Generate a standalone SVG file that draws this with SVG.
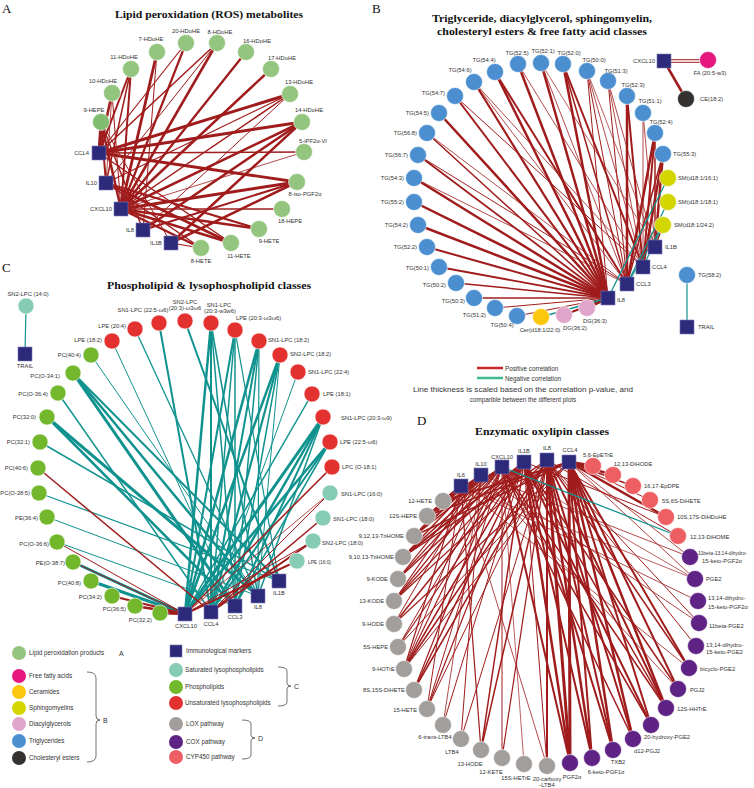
<svg xmlns="http://www.w3.org/2000/svg" width="754" height="788" viewBox="0 0 754 788">
<style>
.lb{font-family:"Liberation Sans",Arial,sans-serif;font-size:5.8px;fill:#333}
.e{text-anchor:end}.m{text-anchor:middle}
.sq{fill:#2d2a7c;stroke:#7b79b2;stroke-width:0.6}
.c{stroke:#ffffff;stroke-width:0.6}
.ros{fill:#93c57f}.ffa{fill:#e6187f}.cer{fill:#fcc80d}.sm{fill:#d3d600}.dg{fill:#e1a5cb}.tg{fill:#4b8fd0}.ce{fill:#343231}.sat{fill:#86cbb3}.pl{fill:#72b72c}.uns{fill:#e33130}.lox{fill:#a19e9c}.cox{fill:#5f2385}.cyp{fill:#ee5f63}
.p line{stroke:#a01c1c}.n line{stroke:#10928f}
.ttl{font-family:"Liberation Serif","DejaVu Serif",serif;font-weight:bold;font-size:11px;fill:#111;text-anchor:middle}
.let{font-family:"Liberation Serif","DejaVu Serif",serif;font-size:13px;fill:#111}
.lg{font-family:"Liberation Sans",Arial,sans-serif;font-size:6.3px;fill:#333}
.br{fill:none;stroke:#333;stroke-width:0.7}
</style>
<rect width="754" height="788" fill="#ffffff"/>

<!-- titles -->
<text class="let" x="2" y="13">A</text>
<text class="ttl" x="209" y="18" textLength="188" lengthAdjust="spacingAndGlyphs">Lipid peroxidation (ROS) metabolites</text>
<text class="let" x="372" y="13">B</text>
<text class="ttl" x="542" y="22" textLength="220" lengthAdjust="spacingAndGlyphs">Triglyceride, diacylglycerol, sphingomyelin,</text>
<text class="ttl" x="542" y="35" textLength="210" lengthAdjust="spacingAndGlyphs">cholesteryl esters &amp; free fatty acid classes</text>
<text class="let" x="2" y="272">C</text>
<text class="ttl" x="209" y="289" textLength="204" lengthAdjust="spacingAndGlyphs">Phospholipid &amp; lysophospholipid classes</text>
<text class="let" x="417" y="425">D</text>
<text class="ttl" x="542" y="435" textLength="134" lengthAdjust="spacingAndGlyphs">Enzymatic oxylipin classes</text>

<!-- connectors -->
<g id="connectors">
<g id="edges-A" class="p">
<line x1="99" y1="153" x2="101" y2="122" stroke-width="3"/>
<line x1="99" y1="153" x2="112" y2="93" stroke-width="2.5"/>
<line x1="99" y1="153" x2="131" y2="69" stroke-width="2"/>
<line x1="99" y1="153" x2="186" y2="43" stroke-width="1.2"/>
<line x1="99" y1="153" x2="217" y2="43" stroke-width="1.5"/>
<line x1="99" y1="153" x2="290" y2="94" stroke-width="3"/>
<line x1="99" y1="153" x2="302" y2="122" stroke-width="3"/>
<line x1="99" y1="153" x2="304" y2="152" stroke-width="1.6"/>
<line x1="99" y1="153" x2="297" y2="182" stroke-width="2.8"/>
<line x1="99" y1="153" x2="231" y2="243" stroke-width="1.5"/>
<line x1="106" y1="183" x2="101" y2="122" stroke-width="2"/>
<line x1="106" y1="183" x2="112" y2="93" stroke-width="0.8"/>
<line x1="106" y1="183" x2="131" y2="69" stroke-width="1.5"/>
<line x1="106" y1="183" x2="217" y2="43" stroke-width="1"/>
<line x1="106" y1="183" x2="290" y2="94" stroke-width="1.2"/>
<line x1="106" y1="183" x2="259" y2="229" stroke-width="2"/>
<line x1="106" y1="183" x2="231" y2="243" stroke-width="2.5"/>
<line x1="106" y1="183" x2="201" y2="248" stroke-width="1.5"/>
<line x1="121" y1="209" x2="101" y2="122" stroke-width="2.5"/>
<line x1="121" y1="209" x2="112" y2="93" stroke-width="1"/>
<line x1="121" y1="209" x2="131" y2="69" stroke-width="2"/>
<line x1="121" y1="209" x2="157" y2="52" stroke-width="2.8"/>
<line x1="121" y1="209" x2="186" y2="43" stroke-width="2.2"/>
<line x1="121" y1="209" x2="217" y2="43" stroke-width="2.5"/>
<line x1="121" y1="209" x2="246" y2="52" stroke-width="2.3"/>
<line x1="121" y1="209" x2="271" y2="69" stroke-width="2.5"/>
<line x1="121" y1="209" x2="290" y2="94" stroke-width="1.5"/>
<line x1="121" y1="209" x2="302" y2="122" stroke-width="2.5"/>
<line x1="121" y1="209" x2="304" y2="152" stroke-width="0.8"/>
<line x1="121" y1="209" x2="297" y2="182" stroke-width="3"/>
<line x1="121" y1="209" x2="282" y2="209" stroke-width="1.5"/>
<line x1="121" y1="209" x2="259" y2="229" stroke-width="2.5"/>
<line x1="121" y1="209" x2="231" y2="243" stroke-width="2.5"/>
<line x1="121" y1="209" x2="201" y2="248" stroke-width="2.5"/>
<line x1="143" y1="230" x2="157" y2="52" stroke-width="1"/>
<line x1="143" y1="230" x2="290" y2="94" stroke-width="1"/>
<line x1="143" y1="230" x2="302" y2="122" stroke-width="2.5"/>
<line x1="143" y1="230" x2="297" y2="182" stroke-width="2"/>
<line x1="143" y1="230" x2="101" y2="122" stroke-width="1.5"/>
<line x1="171" y1="243" x2="302" y2="122" stroke-width="2.5"/>
<line x1="171" y1="243" x2="297" y2="182" stroke-width="2.5"/>
<line x1="171" y1="243" x2="201" y2="248" stroke-width="1.2"/>
<line x1="171" y1="243" x2="101" y2="122" stroke-width="1"/>
</g>

<g id="edges-B-pos" class="p">
<line x1="608" y1="298" x2="414" y2="178" stroke-width="2.5"/>
<line x1="608" y1="298" x2="414" y2="202" stroke-width="2.5"/>
<line x1="608" y1="298" x2="418" y2="225" stroke-width="2.5"/>
<line x1="608" y1="298" x2="427" y2="247" stroke-width="2"/>
<line x1="608" y1="298" x2="439" y2="267" stroke-width="1.8"/>
<line x1="608" y1="298" x2="456" y2="283" stroke-width="1.5"/>
<line x1="608" y1="298" x2="474" y2="298" stroke-width="1.3"/>
<line x1="608" y1="298" x2="495" y2="308" stroke-width="1"/>
<line x1="608" y1="298" x2="517" y2="316" stroke-width="1"/>
<line x1="608" y1="298" x2="418" y2="155" stroke-width="1.8"/>
<line x1="608" y1="298" x2="427" y2="133" stroke-width="1.5"/>
<line x1="608" y1="298" x2="439" y2="113" stroke-width="2.5"/>
<line x1="608" y1="298" x2="455" y2="96" stroke-width="2"/>
<line x1="608" y1="298" x2="474" y2="82" stroke-width="2.2"/>
<line x1="608" y1="298" x2="495" y2="72" stroke-width="2.5"/>
<line x1="608" y1="298" x2="518" y2="64" stroke-width="2.5"/>
<line x1="608" y1="298" x2="541" y2="63" stroke-width="2.5"/>
<line x1="608" y1="298" x2="563" y2="64" stroke-width="2.5"/>
<line x1="608" y1="298" x2="587" y2="71" stroke-width="1"/>
<line x1="608" y1="298" x2="587" y2="308" stroke-width="3"/>
<line x1="608" y1="298" x2="564" y2="315" stroke-width="2"/>
<line x1="627" y1="284" x2="427" y2="133" stroke-width="0.8"/>
<line x1="627" y1="284" x2="414" y2="178" stroke-width="0.8"/>
<line x1="627" y1="284" x2="495" y2="72" stroke-width="2"/>
<line x1="627" y1="284" x2="541" y2="63" stroke-width="0.8"/>
<line x1="627" y1="284" x2="563" y2="64" stroke-width="1.5"/>
<line x1="627" y1="284" x2="587" y2="71" stroke-width="1"/>
<line x1="627" y1="284" x2="608" y2="81" stroke-width="1"/>
<line x1="627" y1="284" x2="627" y2="96" stroke-width="2.5"/>
<line x1="627" y1="284" x2="655" y2="133" stroke-width="2.5"/>
<line x1="627" y1="284" x2="663" y2="154" stroke-width="1.5"/>
<line x1="627" y1="284" x2="418" y2="155" stroke-width="1"/>
<line x1="627" y1="284" x2="474" y2="82" stroke-width="0.8"/>
<line x1="643" y1="267" x2="474" y2="82" stroke-width="0.8"/>
<line x1="643" y1="267" x2="518" y2="64" stroke-width="0.8"/>
<line x1="643" y1="267" x2="563" y2="64" stroke-width="2"/>
<line x1="643" y1="267" x2="587" y2="71" stroke-width="0.8"/>
<line x1="643" y1="267" x2="608" y2="81" stroke-width="0.8"/>
<line x1="643" y1="267" x2="627" y2="96" stroke-width="2"/>
<line x1="643" y1="267" x2="655" y2="133" stroke-width="2"/>
<line x1="643" y1="267" x2="663" y2="154" stroke-width="2.5"/>
<line x1="643" y1="267" x2="643" y2="113" stroke-width="0.8"/>
<line x1="643" y1="267" x2="455" y2="96" stroke-width="1"/>
<line x1="655" y1="247" x2="541" y2="63" stroke-width="0.7"/>
<line x1="655" y1="247" x2="587" y2="71" stroke-width="0.7"/>
<line x1="655" y1="247" x2="608" y2="81" stroke-width="0.8"/>
<line x1="655" y1="247" x2="655" y2="133" stroke-width="1.5"/>
<line x1="655" y1="247" x2="663" y2="154" stroke-width="2.5"/>
<line x1="655" y1="247" x2="643" y2="113" stroke-width="0.8"/>
<line x1="655" y1="247" x2="663" y2="225" stroke-width="1.5"/>
<line x1="664" y1="59.7" x2="708" y2="59.7" stroke-width="1"/>
<line x1="664" y1="62.3" x2="708" y2="62.3" stroke-width="1"/>
<line x1="664" y1="61" x2="686" y2="99" stroke-width="2.5"/>
</g>
<g id="edges-B-neg" class="n">
<line x1="668" y1="178" x2="608" y2="298" stroke-width="1.3"/>
<line x1="668" y1="202" x2="627" y2="284" stroke-width="1.3"/>
<line x1="663" y1="225" x2="627" y2="284" stroke-width="1.2"/>
<line x1="663" y1="225" x2="643" y2="267" stroke-width="1.2"/>
<line x1="541" y1="317" x2="608" y2="298" stroke-width="1.3"/>
<line x1="687" y1="275" x2="687" y2="327" stroke-width="1.2"/>
</g>

<g id="edges-C-neg" class="n">
<line x1="26" y1="306" x2="25" y2="354" stroke-width="1.2"/>
<line x1="112" y1="341" x2="235" y2="606" stroke-width="1"/>
<line x1="135" y1="329" x2="258" y2="596" stroke-width="1.3"/>
<line x1="159" y1="323" x2="211" y2="612" stroke-width="2"/>
<line x1="185" y1="321" x2="279" y2="581" stroke-width="2"/>
<line x1="211" y1="323" x2="185" y2="614" stroke-width="2.5"/>
<line x1="211" y1="323" x2="211" y2="612" stroke-width="2"/>
<line x1="211" y1="323" x2="235" y2="606" stroke-width="1.5"/>
<line x1="211" y1="323" x2="258" y2="596" stroke-width="1.5"/>
<line x1="235" y1="330" x2="185" y2="614" stroke-width="2"/>
<line x1="235" y1="330" x2="211" y2="612" stroke-width="1.5"/>
<line x1="235" y1="330" x2="235" y2="606" stroke-width="1.5"/>
<line x1="235" y1="330" x2="279" y2="581" stroke-width="1.2"/>
<line x1="259" y1="341" x2="185" y2="614" stroke-width="2.5"/>
<line x1="259" y1="341" x2="211" y2="612" stroke-width="2"/>
<line x1="259" y1="341" x2="235" y2="606" stroke-width="1.5"/>
<line x1="259" y1="341" x2="258" y2="596" stroke-width="1.2"/>
<line x1="280" y1="355" x2="185" y2="614" stroke-width="2.5"/>
<line x1="280" y1="355" x2="211" y2="612" stroke-width="2.2"/>
<line x1="280" y1="355" x2="235" y2="606" stroke-width="1.5"/>
<line x1="280" y1="355" x2="258" y2="596" stroke-width="1"/>
<line x1="298" y1="372" x2="211" y2="612" stroke-width="1"/>
<line x1="312" y1="394" x2="185" y2="614" stroke-width="1.5"/>
<line x1="323" y1="417" x2="185" y2="614" stroke-width="3"/>
<line x1="323" y1="417" x2="211" y2="612" stroke-width="2.5"/>
<line x1="323" y1="417" x2="235" y2="606" stroke-width="2"/>
<line x1="323" y1="417" x2="258" y2="596" stroke-width="1.5"/>
<line x1="330" y1="442" x2="185" y2="614" stroke-width="2.5"/>
<line x1="330" y1="442" x2="211" y2="612" stroke-width="2"/>
<line x1="330" y1="442" x2="235" y2="606" stroke-width="1.5"/>
<line x1="91" y1="355" x2="258" y2="596" stroke-width="1"/>
<line x1="73" y1="373" x2="235" y2="606" stroke-width="3"/>
<line x1="73" y1="373" x2="258" y2="596" stroke-width="2.5"/>
<line x1="73" y1="373" x2="279" y2="581" stroke-width="2"/>
<line x1="58" y1="393" x2="211" y2="612" stroke-width="1.5"/>
<line x1="47" y1="417" x2="258" y2="596" stroke-width="3"/>
<line x1="47" y1="417" x2="235" y2="606" stroke-width="2.5"/>
<line x1="40" y1="442" x2="279" y2="581" stroke-width="1.5"/>
<line x1="39" y1="493" x2="279" y2="581" stroke-width="1.2"/>
<line x1="47" y1="517" x2="258" y2="596" stroke-width="1"/>
<line x1="57" y1="542" x2="235" y2="606" stroke-width="1"/>
<line x1="73" y1="562" x2="185" y2="614" stroke-width="3"/>
<line x1="91" y1="581" x2="185" y2="614" stroke-width="3"/>
</g>
<g id="edges-C-pos" class="p">
<line x1="38" y1="468" x2="211" y2="612" stroke-width="1.5"/>
<line x1="57" y1="542" x2="185" y2="614" stroke-width="1"/>
<line x1="112" y1="596" x2="185" y2="614" stroke-width="2"/>
<line x1="135" y1="606" x2="185" y2="614" stroke-width="2.5"/>
<line x1="160" y1="613" x2="185" y2="614" stroke-width="2.5"/>
<line x1="73" y1="562" x2="185" y2="614" stroke-width="1"/>
<line x1="332" y1="467" x2="185" y2="614" stroke-width="1.5"/>
<line x1="330" y1="493" x2="211" y2="612" stroke-width="1"/>
<line x1="323" y1="518" x2="211" y2="612" stroke-width="1.5"/>
<line x1="313" y1="541" x2="211" y2="612" stroke-width="2"/>
<line x1="313" y1="541" x2="185" y2="614" stroke-width="1"/>
<line x1="297" y1="561" x2="185" y2="614" stroke-width="2"/>
<line x1="330" y1="493" x2="185" y2="614" stroke-width="0.8"/>
</g>

<g id="edges-D-pos" class="p">
<line x1="569" y1="462" x2="593" y2="466" stroke-width="3"/>
<line x1="569" y1="462" x2="613" y2="475" stroke-width="2.5"/>
<line x1="569" y1="462" x2="633" y2="486" stroke-width="1.5"/>
<line x1="569" y1="462" x2="650" y2="500" stroke-width="1"/>
<line x1="569" y1="462" x2="666" y2="517" stroke-width="2.5"/>
<line x1="569" y1="462" x2="690" y2="557" stroke-width="0.8"/>
<line x1="569" y1="462" x2="695" y2="579" stroke-width="0.8"/>
<line x1="569" y1="462" x2="689" y2="668" stroke-width="2"/>
<line x1="569" y1="462" x2="678" y2="689" stroke-width="2"/>
<line x1="569" y1="462" x2="666" y2="708" stroke-width="2.5"/>
<line x1="569" y1="462" x2="651" y2="725" stroke-width="2"/>
<line x1="569" y1="462" x2="633" y2="739" stroke-width="2.5"/>
<line x1="569" y1="462" x2="613" y2="750" stroke-width="2.5"/>
<line x1="569" y1="462" x2="592" y2="758" stroke-width="2"/>
<line x1="569" y1="462" x2="570" y2="763" stroke-width="3"/>
<line x1="569" y1="462" x2="443" y2="501" stroke-width="2"/>
<line x1="569" y1="462" x2="427" y2="516" stroke-width="1.5"/>
<line x1="569" y1="462" x2="414" y2="536" stroke-width="1.5"/>
<line x1="569" y1="462" x2="404" y2="669" stroke-width="1"/>
<line x1="569" y1="462" x2="394" y2="624" stroke-width="1.2"/>
<line x1="569" y1="462" x2="398" y2="647" stroke-width="1"/>
<line x1="547" y1="460" x2="570" y2="763" stroke-width="3"/>
<line x1="547" y1="460" x2="613" y2="750" stroke-width="2"/>
<line x1="547" y1="460" x2="592" y2="758" stroke-width="2.5"/>
<line x1="547" y1="460" x2="633" y2="739" stroke-width="2"/>
<line x1="547" y1="460" x2="666" y2="708" stroke-width="2"/>
<line x1="547" y1="460" x2="689" y2="668" stroke-width="1.5"/>
<line x1="547" y1="460" x2="696" y2="646" stroke-width="1"/>
<line x1="547" y1="460" x2="699" y2="623" stroke-width="1"/>
<line x1="547" y1="460" x2="547" y2="766" stroke-width="2"/>
<line x1="547" y1="460" x2="502" y2="758" stroke-width="1.2"/>
<line x1="547" y1="460" x2="481" y2="750" stroke-width="1.5"/>
<line x1="547" y1="460" x2="461" y2="739" stroke-width="1"/>
<line x1="547" y1="460" x2="427" y2="709" stroke-width="1"/>
<line x1="547" y1="460" x2="404" y2="669" stroke-width="1.5"/>
<line x1="547" y1="460" x2="414" y2="690" stroke-width="1.5"/>
<line x1="547" y1="460" x2="394" y2="601" stroke-width="1.2"/>
<line x1="547" y1="460" x2="403" y2="557" stroke-width="1.5"/>
<line x1="547" y1="460" x2="678" y2="536" stroke-width="1"/>
<line x1="524" y1="462" x2="570" y2="763" stroke-width="2.5"/>
<line x1="524" y1="462" x2="547" y2="766" stroke-width="1"/>
<line x1="524" y1="462" x2="613" y2="750" stroke-width="2"/>
<line x1="524" y1="462" x2="592" y2="758" stroke-width="2"/>
<line x1="524" y1="462" x2="666" y2="708" stroke-width="1.5"/>
<line x1="524" y1="462" x2="678" y2="689" stroke-width="1.5"/>
<line x1="524" y1="462" x2="651" y2="725" stroke-width="2"/>
<line x1="524" y1="462" x2="481" y2="750" stroke-width="1.5"/>
<line x1="524" y1="462" x2="443" y2="725" stroke-width="1"/>
<line x1="524" y1="462" x2="427" y2="709" stroke-width="1.2"/>
<line x1="524" y1="462" x2="414" y2="690" stroke-width="1.5"/>
<line x1="524" y1="462" x2="404" y2="669" stroke-width="1.5"/>
<line x1="524" y1="462" x2="398" y2="647" stroke-width="1.2"/>
<line x1="524" y1="462" x2="394" y2="624" stroke-width="1.5"/>
<line x1="524" y1="462" x2="394" y2="601" stroke-width="1.2"/>
<line x1="524" y1="462" x2="398" y2="579" stroke-width="1.5"/>
<line x1="524" y1="462" x2="403" y2="557" stroke-width="2"/>
<line x1="524" y1="462" x2="666" y2="517" stroke-width="1"/>
<line x1="502" y1="467" x2="570" y2="763" stroke-width="2"/>
<line x1="502" y1="467" x2="524" y2="764" stroke-width="0.7"/>
<line x1="502" y1="467" x2="502" y2="758" stroke-width="1"/>
<line x1="502" y1="467" x2="394" y2="601" stroke-width="1.2"/>
<line x1="502" y1="467" x2="398" y2="579" stroke-width="1.2"/>
<line x1="502" y1="467" x2="403" y2="557" stroke-width="1.5"/>
<line x1="502" y1="467" x2="414" y2="536" stroke-width="1.5"/>
<line x1="502" y1="467" x2="427" y2="516" stroke-width="2"/>
<line x1="502" y1="467" x2="398" y2="647" stroke-width="1"/>
<line x1="502" y1="467" x2="404" y2="669" stroke-width="1.2"/>
<line x1="502" y1="467" x2="414" y2="690" stroke-width="1.2"/>
<line x1="502" y1="467" x2="427" y2="709" stroke-width="1"/>
<line x1="502" y1="467" x2="666" y2="708" stroke-width="1.5"/>
<line x1="502" y1="467" x2="651" y2="725" stroke-width="1.5"/>
<line x1="502" y1="467" x2="633" y2="739" stroke-width="1.5"/>
<line x1="502" y1="467" x2="695" y2="579" stroke-width="0.7"/>
<line x1="481" y1="475" x2="443" y2="501" stroke-width="2"/>
<line x1="481" y1="475" x2="427" y2="516" stroke-width="1.5"/>
<line x1="481" y1="475" x2="414" y2="536" stroke-width="2"/>
<line x1="481" y1="475" x2="403" y2="557" stroke-width="1.5"/>
<line x1="481" y1="475" x2="398" y2="579" stroke-width="1.2"/>
<line x1="481" y1="475" x2="394" y2="601" stroke-width="1.2"/>
<line x1="481" y1="475" x2="394" y2="624" stroke-width="1"/>
<line x1="481" y1="475" x2="404" y2="669" stroke-width="1"/>
<line x1="481" y1="475" x2="443" y2="725" stroke-width="0.8"/>
<line x1="481" y1="475" x2="461" y2="739" stroke-width="1"/>
<line x1="481" y1="475" x2="678" y2="689" stroke-width="0.8"/>
<line x1="481" y1="475" x2="699" y2="623" stroke-width="0.8"/>
<line x1="481" y1="475" x2="690" y2="557" stroke-width="0.8"/>
<line x1="461" y1="486" x2="443" y2="501" stroke-width="2.5"/>
<line x1="461" y1="486" x2="427" y2="516" stroke-width="2"/>
<line x1="461" y1="486" x2="414" y2="536" stroke-width="1.5"/>
<line x1="461" y1="486" x2="481" y2="750" stroke-width="1.2"/>
<line x1="461" y1="486" x2="404" y2="669" stroke-width="1.2"/>
<line x1="461" y1="486" x2="427" y2="709" stroke-width="1"/>
<line x1="461" y1="486" x2="689" y2="668" stroke-width="0.8"/>
<line x1="461" y1="486" x2="695" y2="579" stroke-width="0.7"/>
<line x1="461" y1="486" x2="698" y2="601" stroke-width="0.8"/>
<line x1="461" y1="486" x2="547" y2="766" stroke-width="0.8"/>
</g>
<g id="edges-D-neg" class="n">
<line x1="502" y1="467" x2="678" y2="536" stroke-width="1.3"/>
</g>
</g>

<!-- Panel A nodes -->
<g id="a-9hepe"><circle class="c" fill="#80bd6f" cx="101" cy="122" r="8.5"/><text class="lb m" x="94" y="112">9-HEPE</text></g>
<g id="a-10hdohe"><circle class="c ros" cx="112" cy="93" r="8.5"/><text class="lb m" x="103" y="83">10-HDoHE</text></g>
<g id="a-11hdohe"><circle class="c ros" cx="131" cy="69" r="8.5"/><text class="lb m" x="124" y="59">11-HDoHE</text></g>
<g id="a-7hdohe"><circle class="c ros" cx="157" cy="52" r="8.5"/><text class="lb m" x="151" y="41">7-HDoHE</text></g>
<g id="a-20hdohe"><circle class="c ros" cx="186" cy="43" r="8.5"/><text class="lb m" x="186" y="33">20-HDoHE</text></g>
<g id="a-8hdohe"><circle class="c ros" cx="217" cy="43" r="8.5"/><text class="lb m" x="220" y="34">8-HDoHE</text></g>
<g id="a-16hdohe"><circle class="c ros" cx="246" cy="52" r="8.5"/><text class="lb m" x="257" y="43">16-HDoHE</text></g>
<g id="a-17hdohe"><circle class="c ros" cx="271" cy="69" r="8.5"/><text class="lb m" x="282" y="60">17-HDoHE</text></g>
<g id="a-13hdohe"><circle class="c ros" cx="290" cy="94" r="8.5"/><text class="lb m" x="299" y="84">13-HDoHE</text></g>
<g id="a-14hdohe"><circle class="c ros" cx="302" cy="122" r="8.5"/><text class="lb m" x="309" y="112">14-HDoHE</text></g>
<g id="a-5ipf"><circle class="c ros" cx="304" cy="152" r="8.5"/><text class="lb m" x="313" y="143">5-iPF2α-VI</text></g>
<g id="a-8iso"><circle class="c ros" cx="297" cy="182" r="8.5"/><text class="lb m" x="305" y="196">8-iso-PGF2α</text></g>
<g id="a-18hepe"><circle class="c ros" cx="282" cy="209" r="8.5"/><text class="lb m" x="290" y="223">18-HEPE</text></g>
<g id="a-9hete"><circle class="c ros" cx="259" cy="229" r="8.5"/><text class="lb m" x="269" y="243">9-HETE</text></g>
<g id="a-11hete"><circle class="c ros" cx="231" cy="243" r="8.5"/><text class="lb m" x="239" y="258">11-HETE</text></g>
<g id="a-8hete"><circle class="c ros" cx="201" cy="248" r="8.5"/><text class="lb m" x="201" y="263">8-HETE</text></g>
<g id="a-ccl4"><rect class="sq" x="92" y="146" width="14" height="14"/><text class="lb e" x="89" y="155">CCL4</text></g>
<g id="a-il10"><rect class="sq" x="99" y="176" width="14" height="14"/><text class="lb e" x="97" y="185">IL10</text></g>
<g id="a-cxcl10"><rect class="sq" x="114" y="202" width="14" height="14"/><text class="lb e" x="112" y="211">CXCL10</text></g>
<g id="a-il8"><rect class="sq" x="136" y="223" width="14" height="14"/><text class="lb e" x="134" y="232">IL8</text></g>
<g id="a-il1b"><rect class="sq" x="164" y="236" width="14" height="14"/><text class="lb e" x="162" y="245">IL1B</text></g>

<!-- Panel B nodes -->
<g id="b-cxcl10"><rect class="sq" x="657" y="54" width="14" height="14"/><text class="lb e" x="655" y="63">CXCL10</text></g>
<g id="b-fa"><circle class="c ffa" cx="708" cy="60" r="8.5"/><text class="lb m" x="710" y="75">FA (20:5-w3)</text></g>
<g id="b-ce"><circle class="c ce" cx="686" cy="99" r="8.5"/><text class="lb" x="700" y="101">CE(18:2)</text></g>
<g id="b-tg525"><circle class="c tg" cx="518" cy="64" r="8.5"/><text class="lb m" x="517" y="55">TG(52:5)</text></g>
<g id="b-tg521"><circle class="c tg" cx="541" cy="63" r="8.5"/><text class="lb m" x="543" y="53">TG(52:1)</text></g>
<g id="b-tg520"><circle class="c tg" cx="563" cy="64" r="8.5"/><text class="lb m" x="569" y="55">TG(52:0)</text></g>
<g id="b-tg500"><circle class="c tg" cx="587" cy="71" r="8.5"/><text class="lb m" x="594" y="62">TG(50:0)</text></g>
<g id="b-tg513"><circle class="c tg" cx="608" cy="81" r="8.5"/><text class="lb m" x="616" y="73">TG(51:3)</text></g>
<g id="b-tg523"><circle class="c tg" cx="627" cy="96" r="8.5"/><text class="lb m" x="633" y="87">TG(52:3)</text></g>
<g id="b-tg511"><circle class="c tg" cx="643" cy="113" r="8.5"/><text class="lb m" x="650" y="103">TG(51:1)</text></g>
<g id="b-tg524"><circle class="c tg" cx="655" cy="133" r="8.5"/><text class="lb m" x="661" y="124">TG(52:4)</text></g>
<g id="b-tg553"><circle class="c tg" cx="663" cy="154" r="8.5"/><text class="lb" x="673" y="156">TG(55:3)</text></g>
<g id="b-tg544"><circle class="c tg" cx="495" cy="72" r="8.5"/><text class="lb m" x="484" y="62">TG(54:4)</text></g>
<g id="b-tg546"><circle class="c tg" cx="474" cy="82" r="8.5"/><text class="lb m" x="460" y="72">TG(54:6)</text></g>
<g id="b-tg547"><circle class="c tg" cx="455" cy="96" r="8.5"/><text class="lb e" x="445" y="95">TG(54:7)</text></g>
<g id="b-tg545"><circle class="c tg" cx="439" cy="113" r="8.5"/><text class="lb e" x="429" y="115">TG(54:5)</text></g>
<g id="b-tg568"><circle class="c tg" cx="427" cy="133" r="8.5"/><text class="lb e" x="417" y="135">TG(56:8)</text></g>
<g id="b-tg567"><circle class="c tg" cx="418" cy="155" r="8.5"/><text class="lb e" x="408" y="157">TG(56:7)</text></g>
<g id="b-tg543"><circle class="c tg" cx="414" cy="178" r="8.5"/><text class="lb e" x="404" y="180">TG(54:3)</text></g>
<g id="b-tg552"><circle class="c tg" cx="414" cy="202" r="8.5"/><text class="lb e" x="404" y="204">TG(55:2)</text></g>
<g id="b-tg542"><circle class="c tg" cx="418" cy="225" r="8.5"/><text class="lb e" x="408" y="227">TG(54:2)</text></g>
<g id="b-tg522"><circle class="c tg" cx="427" cy="247" r="8.5"/><text class="lb e" x="417" y="249">TG(52:2)</text></g>
<g id="b-tg501"><circle class="c tg" cx="439" cy="267" r="8.5"/><text class="lb e" x="429" y="270">TG(50:1)</text></g>
<g id="b-tg502"><circle class="c tg" cx="456" cy="283" r="8.5"/><text class="lb e" x="446" y="287">TG(50:2)</text></g>
<g id="b-tg503"><circle class="c tg" cx="474" cy="298" r="8.5"/><text class="lb e" x="465" y="303">TG(50:3)</text></g>
<g id="b-tg512"><circle class="c tg" cx="495" cy="308" r="8.5"/><text class="lb e" x="486" y="317">TG(51:2)</text></g>
<g id="b-tg504"><circle class="c tg" cx="517" cy="316" r="8.5"/><text class="lb m" x="502" y="327">TG(50:4)</text></g>
<g id="b-cer"><circle class="c cer" cx="541" cy="317" r="8.5"/><text class="lb m" x="540" y="332">Cer(d18:1/22:0)</text></g>
<g id="b-dg362"><circle class="c dg" cx="564" cy="315" r="8.5"/><text class="lb m" x="575" y="330">DG(36:2)</text></g>
<g id="b-dg363"><circle class="c dg" cx="587" cy="308" r="8.5"/><text class="lb m" x="595" y="323">DG(36:3)</text></g>
<g id="b-sm161"><circle class="c sm" cx="668" cy="178" r="8.5"/><text class="lb" x="678" y="180">SM(d18:1/16:1)</text></g>
<g id="b-sm181"><circle class="c sm" cx="668" cy="202" r="8.5"/><text class="lb" x="678" y="204">SM(d18:1/18:1)</text></g>
<g id="b-sm242"><circle class="c sm" cx="663" cy="225" r="8.5"/><text class="lb" x="674" y="227">SM(d18:1/24:2)</text></g>
<g id="b-il8"><rect class="sq" x="601" y="291" width="14" height="14"/><text class="lb" x="617" y="302">IL8</text></g>
<g id="b-ccl3"><rect class="sq" x="620" y="277" width="14" height="14"/><text class="lb" x="636" y="286">CCL3</text></g>
<g id="b-ccl4"><rect class="sq" x="636" y="260" width="14" height="14"/><text class="lb" x="652" y="269">CCL4</text></g>
<g id="b-il1b"><rect class="sq" x="648" y="240" width="14" height="14"/><text class="lb" x="665" y="249">IL1B</text></g>
<g id="b-tg582"><circle class="c tg" cx="687" cy="275" r="8.5"/><text class="lb" x="698" y="277">TG(58:2)</text></g>
<g id="b-trail"><rect class="sq" x="680" y="320" width="14" height="14"/><text class="lb" x="698" y="329">TRAIL</text></g>

<!-- correlation legend -->
<g id="corr-legend">
<line x1="477" y1="368" x2="503" y2="368" stroke="#c8282c" stroke-width="2.5"/>
<text class="lg" x="505" y="370.5">Positive correlation</text>
<line x1="477" y1="378" x2="503" y2="378" stroke="#3dbb8d" stroke-width="2.5"/>
<text class="lg" x="505" y="380.5">Negative correlation</text>
<text class="lg m" x="523" y="391.5" textLength="220" lengthAdjust="spacingAndGlyphs">Line thickness is scaled based on the correlation p-value, and</text>
<text class="lg m" x="523" y="401.5">comparible between the different plots</text>
</g>

<!-- Panel C nodes -->
<g id="c-sn2lpc140"><circle class="c sat" cx="26" cy="306" r="8"/><text class="lb m" x="28" y="296">SN2-LPC (14:0)</text></g>
<g id="c-trail"><rect class="sq" x="18" y="347" width="14" height="14"/><text class="lb m" x="25" y="368">TRAIL</text></g>
<g id="c-lpe182"><circle class="c uns" cx="112" cy="341" r="8"/><text class="lb e" x="102" y="342">LPE (18:2)</text></g>
<g id="c-lpe204"><circle class="c uns" cx="135" cy="329" r="8"/><text class="lb e" x="126" y="328">LPE (20:4)</text></g>
<g id="c-sn1lpc225"><circle class="c uns" cx="159" cy="323" r="8"/><text class="lb m" x="143" y="312">SN1-LPC (22:5-ω6)</text></g>
<g id="c-sn2lpc203"><circle class="c uns" cx="185" cy="321" r="8"/><text class="lb m" x="185" y="304">SN2-LPC</text><text class="lb m" x="185" y="310">(20:3)-ω3ω6</text></g>
<g id="c-sn1lpc203"><circle class="c uns" cx="211" cy="323" r="8"/><text class="lb m" x="219" y="307">SN1-LPC</text><text class="lb m" x="220" y="313">(20:3-w3w6)</text></g>
<g id="c-lpe203"><circle class="c uns" cx="235" cy="330" r="8"/><text class="lb" x="236" y="320">LPE (20:3-ω3ω6)</text></g>
<g id="c-sn1lpc182"><circle class="c uns" cx="259" cy="341" r="8"/><text class="lb" x="268" y="342">SN1-LPC (18:2)</text></g>
<g id="c-sn2lpc182"><circle class="c uns" cx="280" cy="355" r="8"/><text class="lb" x="290" y="356">SN2-LPC (18:2)</text></g>
<g id="c-sn1lpc224"><circle class="c uns" cx="298" cy="372" r="8"/><text class="lb" x="308" y="374">SN1-LPC (22:4)</text></g>
<g id="c-lpe181"><circle class="c uns" cx="312" cy="394" r="8"/><text class="lb" x="323" y="396">LPE (18:1)</text></g>
<g id="c-sn1lpc203w9"><circle class="c uns" cx="323" cy="417" r="8"/><text class="lb" x="341" y="420">SN1-LPC (20:3-ω9)</text></g>
<g id="c-lpe225"><circle class="c uns" cx="330" cy="442" r="8"/><text class="lb" x="340" y="444">LPE (22:5-ω6)</text></g>
<g id="c-lpco181"><circle class="c uns" cx="332" cy="467" r="8"/><text class="lb" x="342" y="469">LPC (O-18:1)</text></g>
<g id="c-sn1lpc160"><circle class="c sat" cx="330" cy="493" r="8"/><text class="lb" x="341" y="496">SN1-LPC (16:0)</text></g>
<g id="c-sn1lpc180"><circle class="c sat" cx="323" cy="518" r="8"/><text class="lb" x="333" y="521">SN1-LPC (18:0)</text></g>
<g id="c-sn2lpc180"><circle class="c sat" cx="313" cy="541" r="8"/><text class="lb" x="322" y="545">SN2-LPC (18:0)</text></g>
<g id="c-lpe160"><circle class="c sat" cx="297" cy="561" r="8"/><text class="lb" x="308" y="564" style="font-size:4.8px">LPE (16:0)</text></g>
<g id="c-pc404"><circle class="c pl" cx="91" cy="355" r="8"/><text class="lb e" x="81" y="357">PC(40:4)</text></g>
<g id="c-pco341"><circle class="c pl" cx="73" cy="373" r="8"/><text class="lb e" x="60" y="378">PC(O-34:1)</text></g>
<g id="c-pco364"><circle class="c pl" cx="58" cy="393" r="8"/><text class="lb e" x="48" y="396">PC(O-36:4)</text></g>
<g id="c-pc320"><circle class="c pl" cx="47" cy="417" r="8"/><text class="lb e" x="36" y="419">PC(32:0)</text></g>
<g id="c-pc321"><circle class="c pl" cx="40" cy="442" r="8"/><text class="lb e" x="30" y="444">PC(32:1)</text></g>
<g id="c-pc406"><circle class="c pl" cx="38" cy="468" r="8"/><text class="lb e" x="28" y="470">PC(40:6)</text></g>
<g id="c-pco385"><circle class="c pl" cx="39" cy="493" r="8"/><text class="lb e" x="30" y="495">PC(O-38:5)</text></g>
<g id="c-pe364"><circle class="c pl" cx="47" cy="517" r="8"/><text class="lb e" x="38" y="520">PE(36:4)</text></g>
<g id="c-pco366"><circle class="c pl" cx="57" cy="542" r="8"/><text class="lb e" x="49" y="546">PC(O-36:6)</text></g>
<g id="c-peo387"><circle class="c pl" cx="73" cy="562" r="8"/><text class="lb e" x="65" y="565">PE(O-38:7)</text></g>
<g id="c-pc408"><circle class="c pl" cx="91" cy="581" r="8"/><text class="lb e" x="81" y="585">PC(40:8)</text></g>
<g id="c-pc342"><circle class="c pl" cx="112" cy="596" r="8"/><text class="lb e" x="102" y="599">PC(34:2)</text></g>
<g id="c-pc365"><circle class="c pl" cx="135" cy="606" r="8"/><text class="lb e" x="126" y="611">PC(36:5)</text></g>
<g id="c-pc322"><circle class="c pl" cx="160" cy="613" r="8"/><text class="lb e" x="152" y="622">PC(32:2)</text></g>
<g id="c-cxcl10"><rect class="sq" x="178" y="607" width="14" height="14"/><text class="lb m" x="186" y="628">CXCL10</text></g>
<g id="c-ccl4"><rect class="sq" x="204" y="605" width="14" height="14"/><text class="lb m" x="211" y="626">CCL4</text></g>
<g id="c-ccl3"><rect class="sq" x="228" y="599" width="14" height="14"/><text class="lb m" x="235" y="619">CCL3</text></g>
<g id="c-il8"><rect class="sq" x="251" y="589" width="14" height="14"/><text class="lb m" x="258" y="609">IL8</text></g>
<g id="c-il1b"><rect class="sq" x="272" y="574" width="14" height="14"/><text class="lb m" x="279" y="595">IL1B</text></g>

<!-- Panel D nodes -->
<g id="d-il6"><rect class="sq" x="454" y="479" width="14" height="14"/><text class="lb m" x="461" y="477">IL6</text></g>
<g id="d-il10"><rect class="sq" x="474" y="468" width="14" height="14"/><text class="lb m" x="481" y="466">IL10</text></g>
<g id="d-cxcl10"><rect class="sq" x="495" y="460" width="14" height="14"/><text class="lb m" x="502" y="459">CXCL10</text></g>
<g id="d-il1b"><rect class="sq" x="517" y="455" width="14" height="14"/><text class="lb m" x="524" y="453">IL1B</text></g>
<g id="d-il8"><rect class="sq" x="540" y="453" width="14" height="14"/><text class="lb m" x="547" y="450">IL8</text></g>
<g id="d-ccl4"><rect class="sq" x="562" y="455" width="14" height="14"/><text class="lb m" x="570" y="452">CCL4</text></g>
<g id="d-ep56"><circle class="c cyp" cx="593" cy="466" r="8.5"/><text class="lb m" x="598" y="457">5,6-EpETrE</text></g>
<g id="d-dihode"><circle class="c cyp" cx="613" cy="475" r="8.5"/><text class="lb m" x="633" y="466">12,13-DiHODE</text></g>
<g id="d-epdpe"><circle class="c cyp" cx="633" cy="486" r="8.5"/><text class="lb" x="644" y="488">16,17-EpDPE</text></g>
<g id="d-dihete56"><circle class="c cyp" cx="650" cy="500" r="8.5"/><text class="lb" x="662" y="503">5S,6S-DiHETE</text></g>
<g id="d-dihdohe"><circle class="c cyp" cx="666" cy="517" r="8.5"/><text class="lb" x="677" y="519">10S,17S-DiHDoHE</text></g>
<g id="d-dihome"><circle class="c cyp" cx="678" cy="536" r="8.5"/><text class="lb" x="690" y="539">12,13-DiHOME</text></g>
<g id="d-k11b"><circle class="c cox" cx="690" cy="557" r="8.5"/><text class="lb" x="698" y="555" style="font-size:5.3px" textLength="49" lengthAdjust="spacingAndGlyphs">11beta-13,14-dihydro-</text><text class="lb" x="702" y="563">15-keto-PGF2α</text></g>
<g id="d-pge2"><circle class="c cox" cx="695" cy="579" r="8.5"/><text class="lb" x="706" y="581">PGE2</text></g>
<g id="d-k1314"><circle class="c cox" cx="698" cy="601" r="8.5"/><text class="lb" x="708" y="600">13,14-dihydro-</text><text class="lb" x="708" y="609">15-keto-PGF2α</text></g>
<g id="d-b11pge2"><circle class="c cox" cx="699" cy="623" r="8.5"/><text class="lb" x="709" y="628">11beta-PGE2</text></g>
<g id="d-k1314e"><circle class="c cox" cx="696" cy="646" r="8.5"/><text class="lb" x="706" y="647">13,14-dihydro-</text><text class="lb" x="706" y="654">15-keto-PGE2</text></g>
<g id="d-bicyc"><circle class="c cox" cx="689" cy="668" r="8.5"/><text class="lb" x="700" y="671">bicyclo-PGE2</text></g>
<g id="d-pgj2"><circle class="c cox" cx="678" cy="689" r="8.5"/><text class="lb" x="690" y="692">PGJ2</text></g>
<g id="d-hhtre"><circle class="c cox" cx="666" cy="708" r="8.5"/><text class="lb" x="677" y="711">12S-HHTrE</text></g>
<g id="d-hpge2"><circle class="c cox" cx="651" cy="725" r="8.5"/><text class="lb m" x="667" y="739">20-hydroxy-PGE2</text></g>
<g id="d-d12"><circle class="c cox" cx="633" cy="739" r="8.5"/><text class="lb m" x="647" y="753">d12-PGJ2</text></g>
<g id="d-txb2"><circle class="c cox" cx="613" cy="750" r="8.5"/><text class="lb m" x="618" y="764">TXB2</text></g>
<g id="d-k6"><circle class="c cox" cx="592" cy="758" r="8.5"/><text class="lb m" x="606" y="774">6-keto-PGF1α</text></g>
<g id="d-pgf2a"><circle class="c cox" cx="570" cy="763" r="8.5"/><text class="lb m" x="572" y="779">PGF2α</text></g>
<g id="d-carb"><circle class="c lox" cx="547" cy="766" r="8.5"/><text class="lb m" x="547" y="781">20-carboxy</text><text class="lb m" x="547" y="787">-LTB4</text></g>
<g id="d-hetre15"><circle class="c lox" cx="524" cy="764" r="8.5"/><text class="lb m" x="516" y="780">15S-HETrE</text></g>
<g id="d-kete12"><circle class="c lox" cx="502" cy="758" r="8.5"/><text class="lb m" x="491" y="774">12-KETE</text></g>
<g id="d-hode13"><circle class="c lox" cx="481" cy="750" r="8.5"/><text class="lb m" x="470" y="766">13-HODE</text></g>
<g id="d-ltb4"><circle class="c lox" cx="461" cy="739" r="8.5"/><text class="lb m" x="452" y="754">LTB4</text></g>
<g id="d-tltb4"><circle class="c lox" cx="443" cy="725" r="8.5"/><text class="lb m" x="435" y="739">6-trans-LTB4</text></g>
<g id="d-hete15"><circle class="c lox" cx="427" cy="709" r="8.5"/><text class="lb e" x="417" y="712">15-HETE</text></g>
<g id="d-dihete815"><circle class="c lox" cx="414" cy="690" r="8.5"/><text class="lb e" x="405" y="692">8S,15S-DiHETE</text></g>
<g id="d-hotre9"><circle class="c lox" cx="404" cy="669" r="8.5"/><text class="lb e" x="395" y="671">9-HOTrE</text></g>
<g id="d-hepe5"><circle class="c lox" cx="398" cy="647" r="8.5"/><text class="lb e" x="388" y="649">5S-HEPE</text></g>
<g id="d-hode9"><circle class="c lox" cx="394" cy="624" r="8.5"/><text class="lb e" x="384" y="626">9-HODE</text></g>
<g id="d-kode13"><circle class="c lox" cx="394" cy="601" r="8.5"/><text class="lb e" x="384" y="603">13-KODE</text></g>
<g id="d-kode9"><circle class="c lox" cx="398" cy="579" r="8.5"/><text class="lb e" x="388" y="581">9-KODE</text></g>
<g id="d-trihome91013"><circle class="c lox" cx="403" cy="557" r="8.5"/><text class="lb e" x="394" y="559">9,10,13-TriHOME</text></g>
<g id="d-trihome91213"><circle class="c lox" cx="414" cy="536" r="8.5"/><text class="lb e" x="404" y="538">9,12,13-TriHOME</text></g>
<g id="d-hepe12"><circle class="c lox" cx="427" cy="516" r="8.5"/><text class="lb e" x="417" y="518">12S-HEPE</text></g>
<g id="d-hete12"><circle class="c lox" cx="443" cy="501" r="8.5"/><text class="lb e" x="432" y="503">12-HETE</text></g>

<!-- node type legend -->
<g id="legend">
<circle class="ros" cx="19" cy="653" r="7"/><text class="lg" x="29" y="655">Lipid peroxidation products</text><text class="lg" x="119" y="656" style="font-size:7px">A</text>
<circle class="ffa" cx="19" cy="676" r="7"/><text class="lg" x="29" y="678">Free fatty acids</text>
<circle class="cer" cx="19" cy="692" r="7"/><text class="lg" x="29" y="694">Ceramides</text>
<circle class="sm" cx="19" cy="708" r="7"/><text class="lg" x="29" y="710">Sphingomyelins</text>
<circle class="dg" cx="19" cy="724" r="7"/><text class="lg" x="29" y="726">Diacylglycerols</text>
<circle class="tg" cx="19" cy="741" r="7"/><text class="lg" x="29" y="743">Triglycerides</text>
<circle class="ce" cx="19" cy="758" r="7"/><text class="lg" x="29" y="760">Cholesteryl esters</text>
<path class="br" d="M87,672 Q96,672 96,678 L96,716 Q96,720 100,720 Q96,720 96,724 L96,756 Q96,762 87,762"/>
<text class="lg" x="103" y="723" style="font-size:7px">B</text>
<rect class="sq" x="170" y="645" width="12" height="12"/><text class="lg" x="186" y="653">Immunological markers</text>
<circle class="sat" cx="176" cy="670" r="7"/><text class="lg" x="185" y="672">Saturated lysophospholipids</text>
<circle class="pl" cx="176" cy="687" r="7"/><text class="lg" x="185" y="689">Phospholipids</text>
<circle class="uns" cx="176" cy="703" r="7"/><text class="lg" x="185" y="705">Unsaturated lysophospholipids</text>
<path class="br" d="M278,667 Q287,667 287,671 L287,683 Q287,686 291,686 Q287,686 287,689 L287,702 Q287,706 278,706"/>
<text class="lg" x="294" y="689" style="font-size:7px">C</text>
<circle class="lox" cx="176" cy="724" r="7"/><text class="lg" x="186" y="726">LOX pathway</text>
<circle class="cox" cx="176" cy="742" r="7"/><text class="lg" x="186" y="744">COX pathway</text>
<circle class="cyp" cx="176" cy="757" r="7"/><text class="lg" x="186" y="759">CYP450 pathway</text>
<path class="br" d="M242,720 Q251,720 251,724 L251,735 Q251,738 255,738 Q251,738 251,741 L251,755 Q251,759 242,759"/>
<text class="lg" x="258" y="741" style="font-size:7px">D</text>
</g>
</svg>
